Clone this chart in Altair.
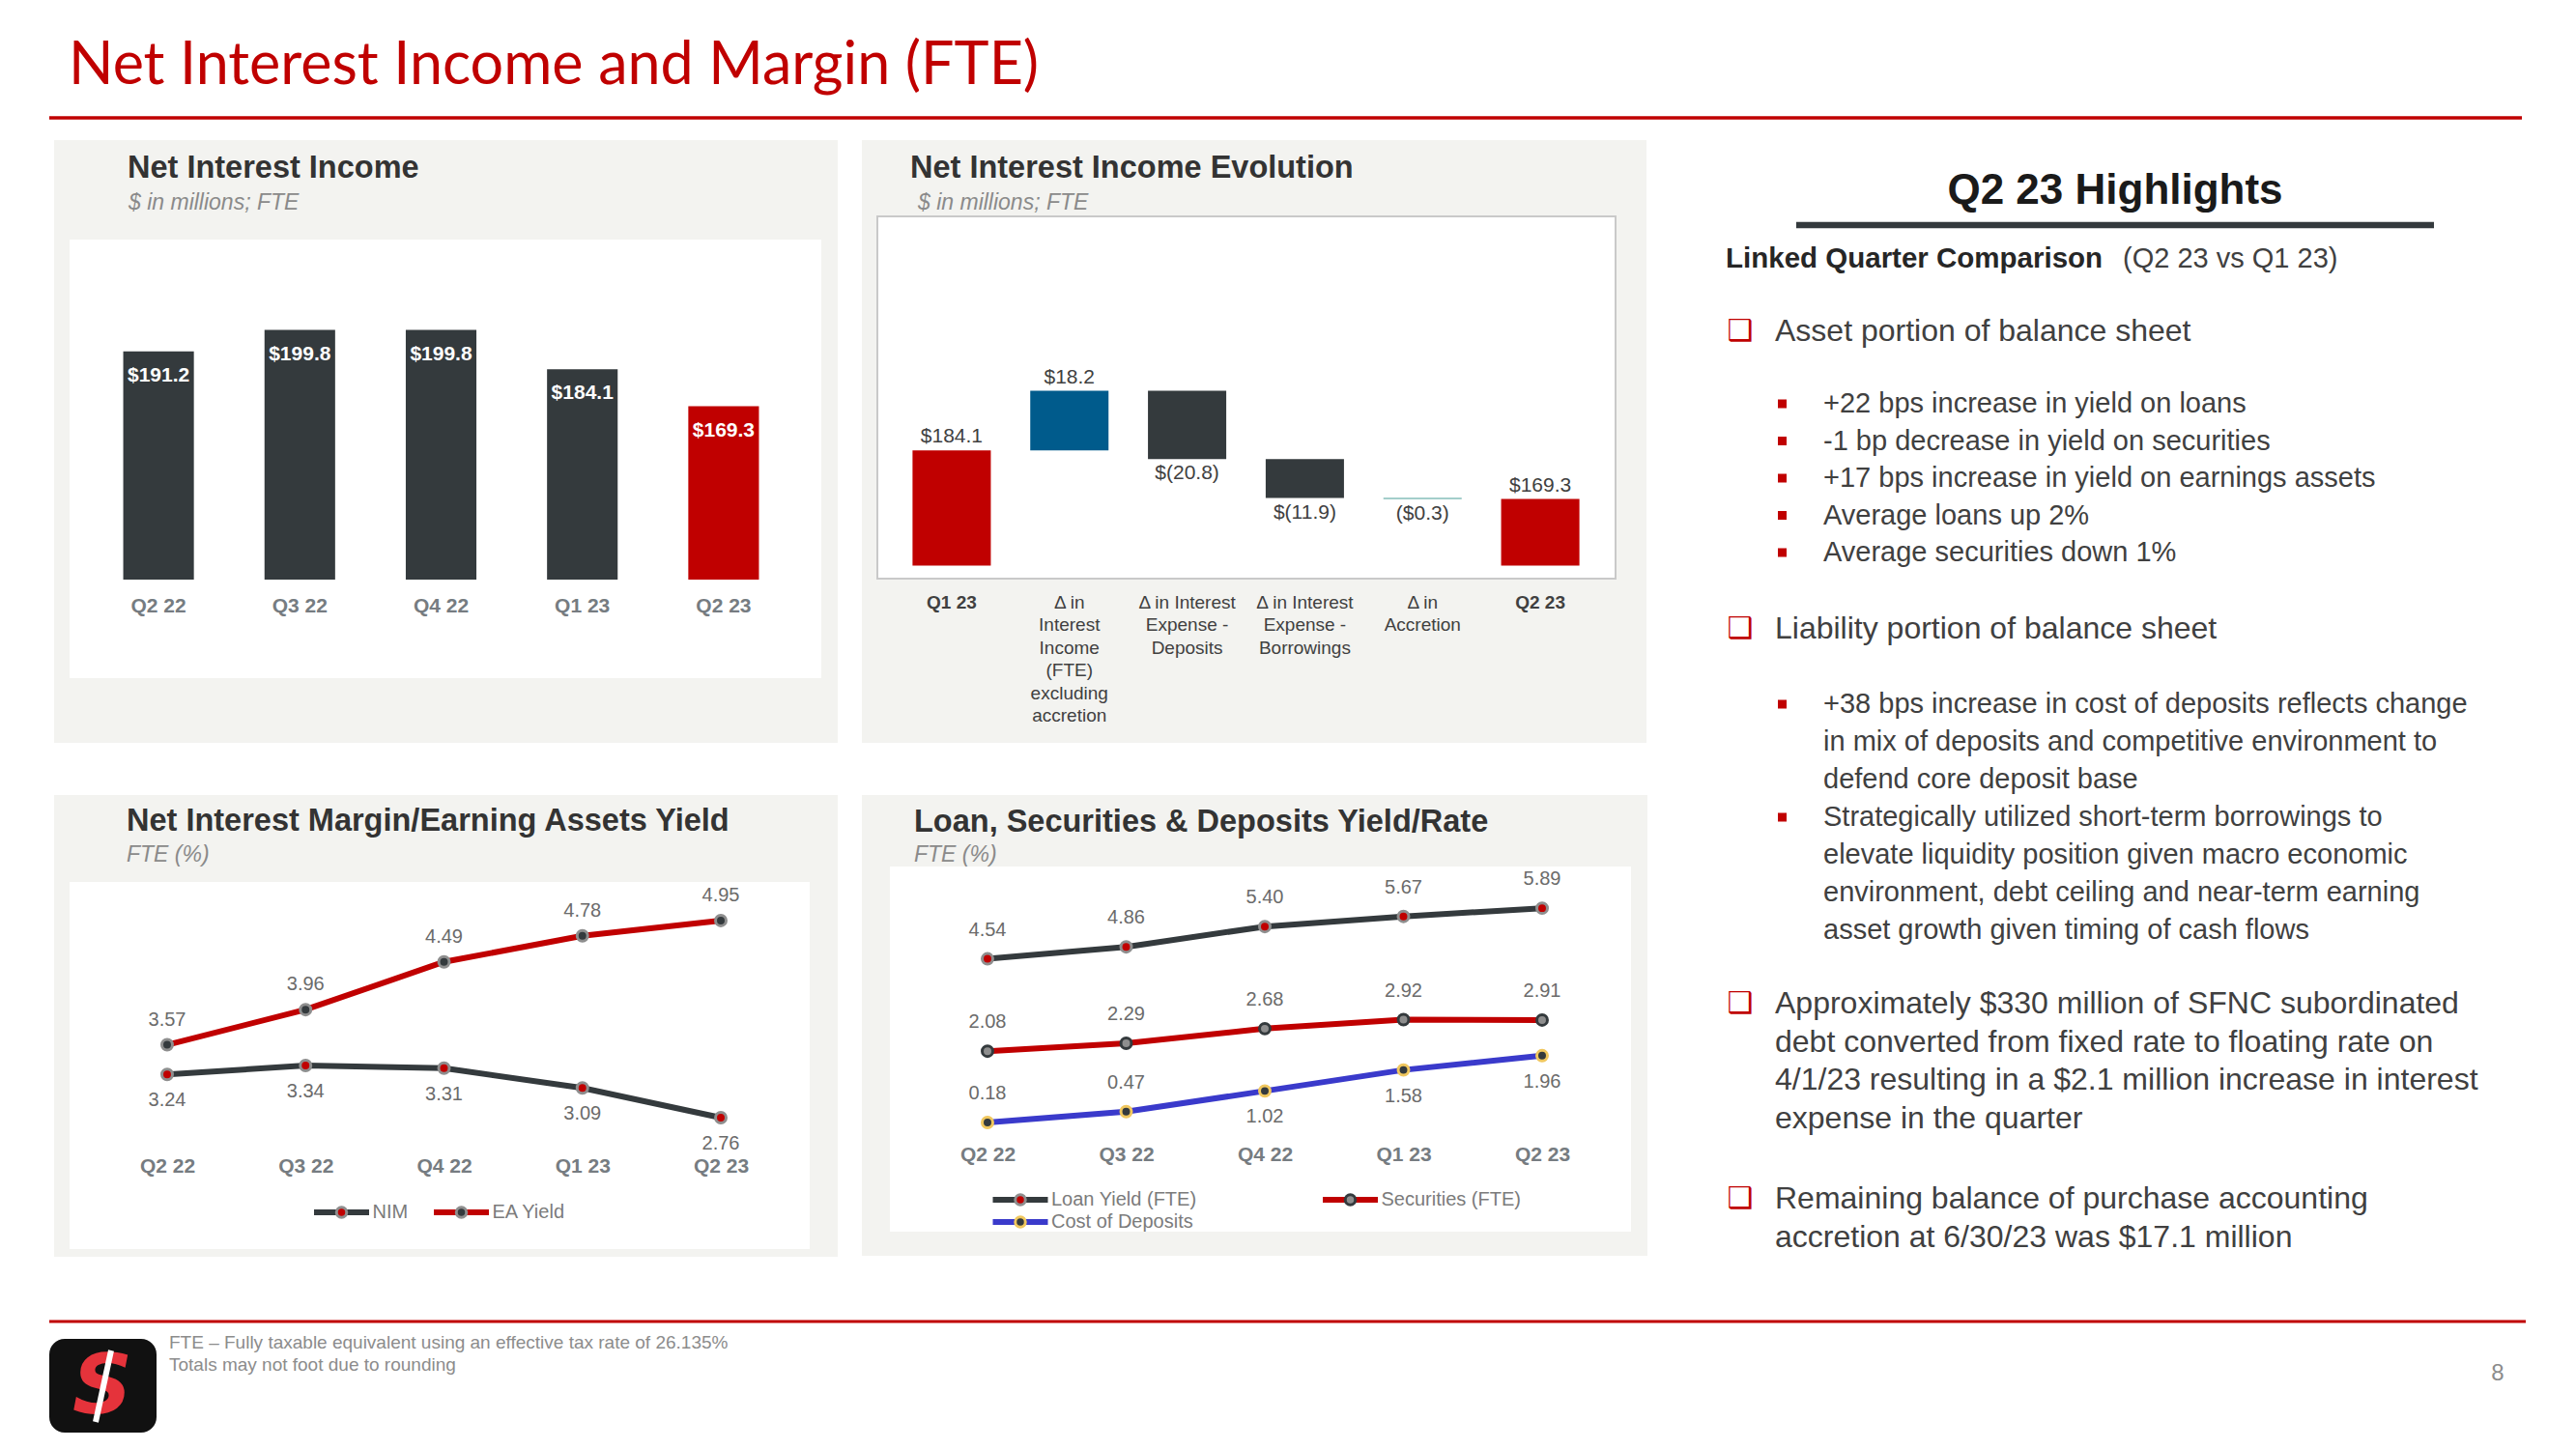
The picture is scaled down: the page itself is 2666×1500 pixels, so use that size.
import altair as alt
import pandas as pd

# ---------------- values ----------------
quarters = ["Q2 22", "Q3 22", "Q4 22", "Q1 23", "Q2 23"]
nii_values = [191.2, 199.8, 199.8, 184.1, 169.3]

wf_steps = ["Q1 23", "Δ in|Interest|Income|(FTE)|excluding|accretion",
            "Δ in Interest|Expense -|Deposits", "Δ in Interest|Expense -|Borrowings",
            "Δ in|Accretion", "Q2 23"]
wf_amounts = [184.1, 18.2, -20.8, -11.9, -0.3, 169.3]
wf_kinds = ["total", "increase", "decrease", "decrease", "accretion", "total"]
wf_labels = ["$184.1", "$18.2", "$(20.8)", "$(11.9)", "($0.3)", "$169.3"]

margin_series = ["NIM", "EA Yield"]
nim_values = [3.24, 3.34, 3.31, 3.09, 2.76]
ea_yield_values = [3.57, 3.96, 4.49, 4.78, 4.95]

yield_series = ["Loan Yield (FTE)", "Securities (FTE)", "Cost of Deposits"]
loan_yield_values = [4.54, 4.86, 5.40, 5.67, 5.89]
securities_values = [2.08, 2.29, 2.68, 2.92, 2.91]
cost_of_deposits_values = [0.18, 0.47, 1.02, 1.58, 1.96]

page_title = "Net Interest Income and Margin (FTE)"
panel_titles = ["Net Interest Income", "Net Interest Income Evolution",
                "Net Interest Margin/Earning Assets Yield", "Loan, Securities & Deposits Yield/Rate"]
panel_subtitles = ["$ in millions; FTE", "$ in millions; FTE", "FTE (%)", "FTE (%)"]
highlights_title = "Q2 23 Highlights"
linked_bold = "Linked Quarter Comparison"
linked_regular = "(Q2 23 vs Q1 23)"
asset_heading = "Asset portion of balance sheet"
asset_points = ["+22 bps increase in yield on loans", "-1 bp decrease in yield on securities",
                "+17 bps increase in yield on earnings assets", "Average loans up 2%",
                "Average securities down 1%"]
liability_heading = "Liability portion of balance sheet"
liability_lines = ["+38 bps increase in cost of deposits reflects change",
                   "in mix of deposits and competitive environment to",
                   "defend core deposit base",
                   "Strategically utilized short-term borrowings to",
                   "elevate liquidity position given macro economic",
                   "environment, debt ceiling and near-term earning",
                   "asset growth given timing of cash flows"]
liability_bullet_lines = [0, 3]
debt_lines = ["Approximately $330 million of SFNC subordinated",
              "debt converted from fixed rate to floating rate on",
              "4/1/23 resulting in a $2.1 million increase in interest",
              "expense in the quarter"]
accretion_lines = ["Remaining balance of purchase accounting",
                   "accretion at 6/30/23 was $17.1 million"]
footnotes = ["FTE \u2013 Fully taxable equivalent using an effective tax rate of 26.135%",
             "Totals may not foot due to rounding"]
page_number = "8"

# ---------------- styling / layout ----------------
W, H = 2650, 1484
M = 8


def px(v):
    return v - M


FONT = "Liberation Sans, Arial, sans-serif"
TITLE_FONT = "Lato, Open Sans, sans-serif"
RED = "#c00000"
DARK = "#343a3d"
BLUE = "#005b8c"
TEAL = "#4a9e98"
PURPLE = "#3a3acb"
GOLD = "#f0c75e"
MGRAY = "#8e8e8e"
PANEL = "#f3f3f0"
AXIS_GRAY = "#767c81"
VAL_GRAY = "#6b6b6b"
TXT = "#404040"
ONE = alt.Data(values=[{}])


def text_mark(s, x, y, size, color, weight="normal", style="normal", align="left",
              baseline="middle", font=FONT):
    return alt.Chart(ONE).mark_text(text=s, font=font, fontSize=size, color=color,
                                    fontWeight=weight, fontStyle=style, align=align,
                                    baseline=baseline).encode(x=alt.value(px(x)), y=alt.value(px(y)))


def box(x1, y1, x2, y2, fill, stroke=None, sw=None, radius=None):
    kw = dict(fill=fill)
    if stroke:
        kw.update(stroke=stroke, strokeWidth=sw)
    if radius:
        kw.update(cornerRadius=radius)
    return alt.Chart(ONE).mark_rect(**kw).encode(
        x=alt.value(px(x1)), x2=alt.value(px(x2)), y=alt.value(px(y1)), y2=alt.value(px(y2)))


def seg(x1, y1, x2, y2, color, sw):
    return alt.Chart(ONE).mark_rule(color=color, strokeWidth=sw).encode(
        x=alt.value(px(x1)), x2=alt.value(px(x2)), y=alt.value(px(y1)), y2=alt.value(px(y2)))


def x_axis(axis_y, pad, size=21, weight="bold", color=AXIS_GRAY, **extra):
    return alt.Axis(orient="bottom", offset=px(axis_y) - H, domain=False, ticks=False, grid=False,
                    labelAngle=0, labelFont=FONT, labelFontSize=size, labelFontWeight=weight,
                    labelColor=color, labelPadding=pad, labelOverlap=False, title=None,
                    zindex=1, **extra)


layers = []

# ---- backgrounds ----
layers += [
    box(56, 145, 867, 769, PANEL), box(892, 145, 1704, 769, PANEL),
    box(56, 823, 867, 1301, PANEL), box(892, 823, 1705, 1300, PANEL),
    box(72, 248, 850, 702, "white"),
    box(908, 224, 1672, 599, "white", stroke="#c9c9c9", sw=2),
    box(72, 913, 838, 1293, "white"), box(921, 897, 1688, 1275, "white"),
]

# ---- page title ----
layers += [
    text_mark(page_title, 71, 87, 61, RED, baseline="alphabetic", font=TITLE_FONT),
    seg(51, 122, 2610, 122, RED, 3.5),
]

# ---- panel titles ----
title_pos = [(132, 174), (942, 174), (131, 850), (946, 851)]
sub_pos = [(133, 210), (950, 210), (131, 885), (946, 885)]
for t, (x, y) in zip(panel_titles, title_pos):
    layers.append(text_mark(t, x, y, 32.5, "#333333", weight="bold"))
for t, (x, y) in zip(panel_subtitles, sub_pos):
    layers.append(text_mark(t, x, y, 23, "#8a8a8a", style="italic"))

# ---- Net Interest Income bars ----
nii_df = pd.DataFrame({"quarter": quarters, "value": nii_values})
nii_base = alt.Chart(nii_df).encode(
    x=alt.X("quarter:N", sort=quarters,
            scale=alt.Scale(range=[px(91), px(822)], paddingInner=0.5, paddingOuter=0.25),
            axis=x_axis(600, 16)),
    y=alt.Y("value:Q", scale=alt.Scale(domain=[100, 240], range=[px(600), px(600 - 140 * 2.59)],
                                       nice=False, zero=False), axis=None))
nii_panel = alt.layer(
    nii_base.mark_bar().encode(
        y2=alt.datum(100),
        color=alt.condition(alt.datum.quarter == "Q2 23", alt.value(RED), alt.value(DARK))),
    nii_base.mark_text(dy=25, font=FONT, fontSize=21, fontWeight="bold", color="white",
                       baseline="middle").encode(text=alt.Text("value:Q", format="$.1f")),
)
layers.append(nii_panel)

# ---- waterfall ----
WF_BASE = 149
starts, ends, run = [], [], 0.0
for amt, kind in zip(wf_amounts, wf_kinds):
    if kind == "total":
        starts.append(WF_BASE)
        ends.append(amt)
        run = amt
    else:
        starts.append(run)
        ends.append(run + amt)
        run = run + amt
wf_df = pd.DataFrame({"step": wf_steps, "kind": wf_kinds, "start": starts, "end": ends,
                      "label": wf_labels})
wf_df["top"] = wf_df[["start", "end"]].max(axis=1)
wf_df["bottom"] = wf_df[["start", "end"]].min(axis=1)
bold_cond = {"condition": {"test": "datum.label == 'Q1 23' || datum.label == 'Q2 23'", "value": "bold"},
             "value": "normal"}
wf_x = alt.X("step:N", sort=wf_steps,
             scale=alt.Scale(range=[px(924), px(1655)], paddingInner=0.335, paddingOuter=0.1675),
             axis=x_axis(599, 15, size=19, weight=bold_cond, color=TXT,
                         labelExpr="split(datum.label, '|')", labelLineHeight=23.5, labelBaseline="top"))
wf_yscale = alt.Scale(domain=[145, 255.5], range=[px(599), px(224)], nice=False, zero=False)
wf_base = alt.Chart(wf_df).encode(x=wf_x)
wf_panel = alt.layer(
    wf_base.mark_bar().encode(
        y=alt.Y("start:Q", scale=wf_yscale, axis=None), y2="end:Q",
        color=alt.Color("kind:N", scale=alt.Scale(domain=["total", "increase", "decrease", "accretion"],
                                                  range=[RED, BLUE, DARK, TEAL]), legend=None)),
    wf_base.mark_text(dy=-14, font=FONT, fontSize=21, color=TXT, baseline="middle").encode(
        y=alt.Y("top:Q", scale=wf_yscale, axis=None), text="label:N"
    ).transform_filter("datum.kind == 'total' || datum.kind == 'increase'"),
    wf_base.mark_text(dy=15, font=FONT, fontSize=21, color=TXT, baseline="middle").encode(
        y=alt.Y("bottom:Q", scale=wf_yscale, axis=None), text="label:N"
    ).transform_filter("datum.kind == 'decrease' || datum.kind == 'accretion'"),
)
layers.append(wf_panel)


# ---- line panels ----
def line_panel(df, series, line_colors, fills, strokes, x_rng, y_dom, y_rng, axis_y, pad, label_rules):
    base = alt.Chart(df).encode(
        x=alt.X("quarter:N", sort=quarters,
                scale=alt.Scale(type="point", range=[px(x_rng[0]), px(x_rng[1])], padding=0),
                axis=x_axis(axis_y, pad)),
        y=alt.Y("value:Q", scale=alt.Scale(domain=y_dom, range=[px(y_rng[0]), px(y_rng[1])],
                                           nice=False, zero=False), axis=None))
    parts = [
        base.mark_line(strokeWidth=6).encode(
            color=alt.Color("series:N", scale=alt.Scale(domain=series, range=line_colors), legend=None)),
        base.mark_circle(size=120, strokeWidth=3, opacity=1).encode(
            fill=alt.Fill("series:N", scale=alt.Scale(domain=series, range=fills), legend=None),
            stroke=alt.Stroke("series:N", scale=alt.Scale(domain=series, range=strokes), legend=None)),
    ]
    for test, dy in label_rules:
        parts.append(base.mark_text(dy=dy, font=FONT, fontSize=20, color=VAL_GRAY, baseline="middle")
                     .encode(text=alt.Text("value:Q", format=".2f")).transform_filter(test))
    return alt.layer(*parts)


margin_df = pd.DataFrame({"quarter": quarters * 2,
                          "series": [s for s in margin_series for _ in quarters],
                          "value": nim_values + ea_yield_values})
layers.append(line_panel(
    margin_df, margin_series, [DARK, RED], [RED, DARK], [MGRAY, MGRAY],
    (173, 746), [2.4, 5.2], (1190.6, 929.6), 1190.6, 6,
    [("datum.series == 'EA Yield'", -26), ("datum.series == 'NIM'", 27)]))

yield_df = pd.DataFrame({"quarter": quarters * 3,
                         "series": [s for s in yield_series for _ in quarters],
                         "value": loan_yield_values + securities_values + cost_of_deposits_values})
early = "(datum.quarter == 'Q2 22' || datum.quarter == 'Q3 22')"
layers.append(line_panel(
    yield_df, yield_series, [DARK, RED, PURPLE], [RED, MGRAY, DARK], [MGRAY, DARK, GOLD],
    (1022, 1596), [0, 7], (1169, 897), 1169, 15,
    [("datum.series != 'Cost of Deposits' || " + early, -30),
     ("datum.series == 'Cost of Deposits' && !" + early, 27)]))


# ---- custom legends ----
def legend_row(names, centers, y, line_colors, fills, strokes):
    df = pd.DataFrame({"series": names})
    base = alt.Chart(df).encode(
        x=alt.X("series:N", sort=names,
                scale=alt.Scale(type="point", range=[px(centers[0]), px(centers[-1])], padding=0),
                axis=None),
        y=alt.value(px(y)))
    return alt.layer(
        base.mark_point(shape="M-1,0L1,0", size=57 * 57, strokeWidth=6, filled=False, opacity=1).encode(
            stroke=alt.Stroke("series:N", scale=alt.Scale(domain=names, range=line_colors), legend=None)),
        base.mark_circle(size=110, strokeWidth=3, opacity=1).encode(
            fill=alt.Fill("series:N", scale=alt.Scale(domain=names, range=fills), legend=None),
            stroke=alt.Stroke("series:N", scale=alt.Scale(domain=names, range=strokes), legend=None)),
        base.mark_text(align="left", baseline="middle", dx=32, font=FONT, fontSize=20,
                       color="#7b7b7b").encode(text="series:N"),
    ).resolve_scale(stroke="independent")


layers.append(legend_row(margin_series, [353.5, 477.5], 1255, [DARK, RED], [RED, DARK], [MGRAY, MGRAY]))
layers.append(legend_row(yield_series[:2], [1056, 1397.5], 1242, [DARK, RED], [RED, MGRAY], [MGRAY, DARK]))
layers.append(legend_row(yield_series[2:], [1056, 1056], 1265, [PURPLE], [DARK], [GOLD]))

# ---- highlights text ----
layers += [
    text_mark(highlights_title, 2189, 198, 44, "#1a1a1a", weight="bold", align="center"),
    seg(1859, 233, 2519, 233, DARK, 6.5),
    text_mark(linked_bold, 1786, 268, 29.5, "#262626", weight="bold"),
    text_mark(linked_regular, 2197, 268, 29, TXT),
]
BOX = "\u2751"
for y in [343, 651, 1039, 1241]:
    layers.append(text_mark(BOX, 1801, y, 30, RED, align="center", font="DejaVu Sans"))
layers.append(text_mark(asset_heading, 1837, 343, 32, TXT))
layers.append(text_mark(liability_heading, 1837, 651, 32, TXT))
for i, t in enumerate(asset_points):
    y = 418 + i * 38.5
    layers.append(text_mark(t, 1887, y, 29, TXT))
    layers.append(box(1840, y - 4.5, 1849, y + 4.5, RED))
for i, t in enumerate(liability_lines):
    y = 729 + i * 39
    layers.append(text_mark(t, 1887, y, 29, TXT))
    if i in liability_bullet_lines:
        layers.append(box(1840, y - 4.5, 1849, y + 4.5, RED))
for i, t in enumerate(debt_lines):
    layers.append(text_mark(t, 1837, 1039 + i * 39.7, 32, TXT))
for i, t in enumerate(accretion_lines):
    layers.append(text_mark(t, 1837, 1241 + i * 39.7, 32, TXT))

# ---- footer ----
layers += [
    seg(51, 1368, 2614, 1368, RED, 3),
    text_mark(footnotes[0], 175, 1390, 19, "#8c8c8c"),
    text_mark(footnotes[1], 175, 1413, 19, "#8c8c8c"),
    text_mark(page_number, 2585, 1422, 24, "#8c8c8c", align="center"),
    box(51, 1386, 162, 1483, "#111111", radius=16),
    text_mark("S", 106, 1437, 86, "#e5333b", weight="bold", style="italic", align="center",
              font="DejaVu Sans"),
    seg(99, 1472, 115, 1398, "white", 6),
]

chart = alt.layer(*layers).resolve_scale(
    x="independent", y="independent", color="independent", fill="independent", stroke="independent"
).properties(
    width=W, height=H, background="white", padding=0, autosize=alt.AutoSizeParams(type="none")
).configure_view(strokeWidth=0)

chart.save("out.html", embed_options={"renderer": "svg", "actions": False})
